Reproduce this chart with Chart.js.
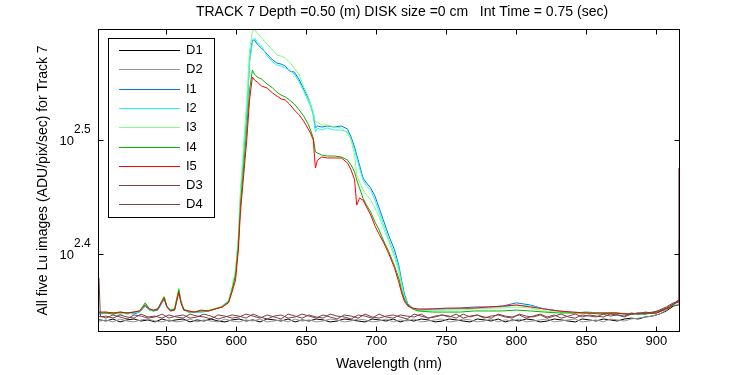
<!DOCTYPE html>
<html>
<head>
<meta charset="utf-8">
<script src="https://cdn.jsdelivr.net/npm/chart.js@4.4.1/dist/chart.umd.min.js"></script>
<style>
  html, body { margin: 0; padding: 0; background: #fff; }
  canvas { display: block; }
</style>
</head>
<body>
<canvas id="grafiek" width="750" height="375"></canvas>
<script>
// golflengtes (nm) voor de belichte beelden I1..I5
const wavelengths = [
  502, 507, 512, 517, 522, 527, 531, 535, 538, 541,
  544, 546.5, 548.5, 550.5, 553, 556, 557.5, 559, 560.5, 562.5,
  566, 570, 575, 580, 585, 590, 594.5, 597, 599.5, 601.5,
  603, 605, 607.5, 609.5, 611.5, 613, 615, 618, 622, 626,
  629, 632, 635, 638, 641.5, 645, 648.5, 651, 653, 655,
  656.5, 658, 661, 665, 670, 675, 679.5, 682, 684.5, 686,
  688, 690.5, 693, 696, 699, 702, 705, 709, 713, 716,
  718, 720, 722.5, 726, 730, 740, 750, 760, 770, 780,
  790, 800, 810, 820, 830, 840, 850, 860, 870, 880,
  890, 900, 905, 910, 913, 916
];

// golflengtes (nm) voor de donkerbeelden D1..D4
const darkWavelengths = [
  502, 503, 507, 512, 517, 522, 527, 532, 537, 542, 547,
  552, 557, 562, 567, 572, 577, 582, 587, 592, 597,
  602, 607, 612, 617, 622, 627, 632, 637, 642, 647,
  652, 657, 662, 667, 672, 677, 682, 687, 692, 697,
  702, 707, 712, 717, 722, 727, 732, 737, 742, 747,
  752, 757, 762, 767, 772, 777, 782, 787, 792, 797,
  802, 807, 812, 817, 822, 827, 832, 837, 842, 847,
  852, 857, 862, 867, 872, 877, 882, 887, 892, 897,
  902, 907, 912, 915.5, 916
];

const i1 = [
  222.7, 223.2, 223.2, 222.7, 223.2, 222.7, 223.6, 226.3, 224.5, 224.1,
  224.5, 227.3, 229.6, 225.9, 224.1, 224.5, 228.6, 232.8, 228.2, 224.5,
  224.1, 223.6, 223.6, 224.1, 225.0, 226.3, 228.6, 234.3, 242.4, 258.5,
  282.5, 303.7, 332.6, 371.5, 386.8, 386.8, 383.7, 380.6, 376.0, 371.5,
  369.3, 368.5, 367.1, 363.4, 362.6, 356.9, 349.7, 344.9, 340.0, 333.3,
  324.0, 325.3, 324.6, 325.3, 324.6, 325.3, 323.3, 318.1, 311.8, 306.8,
  300.7, 292.9, 290.0, 287.1, 282.5, 275.8, 269.2, 260.6, 253.4, 245.8,
  238.5, 231.9, 227.3, 225.4, 224.5, 225.0, 225.0, 225.4, 225.9, 225.9,
  226.3, 227.8, 226.8, 225.0, 224.1, 223.2, 223.6, 223.2, 223.2, 222.7,
  223.2, 223.2, 224.5, 226.3, 227.8, 228.6
];
const i2 = [
  222.7, 223.2, 222.7, 223.2, 222.7, 223.2, 223.6, 226.8, 224.5, 224.1,
  225.0, 227.8, 230.0, 225.9, 224.1, 225.0, 229.1, 233.4, 228.2, 224.5,
  223.6, 223.6, 223.6, 224.1, 225.0, 225.9, 228.2, 233.9, 241.9, 257.5,
  280.2, 300.7, 330.6, 370.1, 385.3, 388.4, 385.3, 382.2, 374.5, 370.1,
  367.8, 367.1, 365.6, 364.1, 361.2, 355.4, 348.3, 342.8, 338.6, 331.9,
  321.4, 324.0, 322.7, 324.0, 322.7, 322.7, 321.4, 316.2, 309.9, 305.0,
  298.9, 291.8, 288.2, 285.9, 280.2, 273.5, 267.0, 258.5, 251.3, 244.3,
  237.1, 231.0, 226.8, 225.0, 224.5, 224.5, 225.0, 225.0, 225.4, 225.4,
  225.9, 226.8, 226.3, 225.0, 224.1, 223.6, 223.2, 223.2, 222.7, 222.7,
  222.7, 223.2, 224.5, 225.9, 227.3, 228.2
];
const i3 = [
  223.2, 223.6, 222.7, 223.2, 223.2, 223.6, 224.1, 227.3, 225.0, 224.5,
  225.4, 228.2, 231.0, 226.3, 224.5, 225.4, 230.0, 234.8, 229.1, 225.0,
  224.1, 223.6, 224.1, 224.5, 225.4, 226.3, 229.1, 235.2, 243.4, 260.1,
  285.9, 309.9, 342.8, 379.1, 393.1, 395.5, 392.3, 388.4, 383.7, 379.1,
  375.3, 374.5, 373.0, 370.1, 365.6, 360.5, 351.2, 346.2, 340.0, 334.6,
  327.9, 327.9, 325.9, 325.9, 324.6, 324.0, 320.7, 316.2, 306.8, 294.7,
  290.6, 285.9, 283.1, 280.2, 275.8, 270.8, 264.9, 257.5, 249.8, 242.4,
  236.1, 230.0, 226.3, 225.0, 224.1, 224.1, 224.5, 224.5, 225.0, 225.4,
  225.4, 225.9, 225.4, 224.1, 223.6, 223.2, 223.2, 223.2, 223.2, 222.7,
  223.2, 223.6, 225.0, 226.3, 227.8, 229.1
];
const i4 = [
  223.2, 223.2, 222.7, 223.6, 223.2, 223.6, 224.1, 227.8, 225.0, 224.1,
  225.0, 228.2, 230.5, 226.3, 224.5, 225.0, 229.6, 233.9, 228.6, 225.0,
  223.6, 223.6, 224.1, 224.1, 225.0, 225.9, 228.2, 233.9, 240.9, 255.9,
  277.4, 296.5, 322.7, 349.7, 364.1, 361.2, 359.0, 357.6, 354.0, 351.2,
  348.3, 346.2, 344.9, 342.8, 340.0, 335.9, 331.3, 327.2, 322.7, 317.5,
  308.7, 308.1, 306.8, 306.2, 306.2, 305.6, 303.7, 300.7, 296.5, 291.8,
  287.1, 281.3, 277.4, 273.5, 268.1, 263.8, 258.5, 252.4, 245.3, 239.5,
  233.9, 229.6, 226.8, 225.0, 224.1, 223.6, 223.6, 223.6, 224.1, 224.1,
  224.1, 224.5, 224.1, 223.6, 223.2, 223.2, 223.2, 222.7, 223.2, 222.7,
  222.7, 223.2, 224.5, 225.9, 227.3, 229.1
];
const i5 = [
  223.6, 223.6, 223.2, 223.6, 223.2, 223.6, 224.1, 226.8, 225.0, 224.5,
  225.0, 227.8, 230.0, 225.9, 224.1, 224.5, 228.6, 232.8, 227.8, 224.5,
  224.1, 223.6, 224.5, 224.1, 225.0, 225.9, 227.8, 232.8, 238.5, 253.4,
  273.5, 291.8, 316.2, 342.8, 359.0, 356.9, 355.4, 352.6, 351.2, 347.6,
  345.6, 343.5, 342.8, 340.0, 335.9, 332.6, 327.9, 324.0, 320.7, 316.2,
  298.9, 303.7, 305.6, 305.0, 305.0, 305.0, 301.9, 297.7, 291.8, 277.4,
  281.3, 280.2, 276.3, 271.9, 266.0, 261.6, 257.5, 251.3, 244.3, 237.6,
  232.5, 228.6, 226.3, 225.4, 225.0, 225.0, 225.4, 225.4, 225.4, 225.9,
  226.3, 226.8, 225.9, 225.0, 224.1, 223.6, 223.2, 223.2, 223.2, 222.7,
  223.2, 223.2, 224.5, 225.9, 227.8, 229.1
];

const d1 = [
  220.1, 220.1, 219.6, 220.5, 219.2, 220.1, 220.5, 219.6, 220.1, 219.2, 220.5,
  219.6, 220.1, 220.5, 219.2, 220.1, 219.6, 220.5, 219.6, 219.2, 220.1,
  220.5, 219.6, 220.1, 219.2, 220.5, 220.1, 219.6, 220.5, 219.2, 220.1,
  219.6, 220.5, 220.1, 219.2, 219.6, 220.5, 220.1, 219.6, 219.2, 220.5,
  220.1, 219.6, 220.5, 219.2, 220.1, 219.6, 220.5, 220.1, 219.2, 219.6,
  220.5, 220.1, 219.6, 219.2, 220.5, 220.1, 219.6, 220.5, 219.2, 220.1,
  219.6, 220.5, 220.1, 219.2, 219.6, 220.5, 220.1, 219.6, 219.2, 220.5,
  220.1, 219.6, 220.5, 220.1, 219.6, 220.5, 220.9, 220.5, 221.4, 221.8,
  222.7, 224.1, 226.3, 226.8, 227.3
];
const d2 = [
  219.6, 219.6, 220.1, 219.2, 220.5, 219.6, 219.2, 220.1, 220.5, 219.6, 219.2,
  220.1, 219.2, 219.6, 220.5, 219.2, 220.1, 219.6, 219.2, 220.5, 219.6,
  219.2, 220.1, 219.6, 220.5, 219.2, 219.6, 220.1, 219.2, 220.5, 219.6,
  220.1, 219.2, 219.6, 220.5, 220.1, 219.2, 219.6, 220.5, 220.1, 219.2,
  219.6, 220.5, 219.2, 220.1, 219.6, 220.5, 219.2, 219.6, 220.1, 220.5,
  219.2, 219.6, 220.5, 220.1, 219.2, 219.6, 220.5, 219.2, 220.1, 219.6,
  220.5, 219.2, 219.6, 220.1, 220.5, 219.2, 219.6, 220.1, 220.5, 219.2,
  219.6, 220.1, 219.2, 220.5, 220.1, 219.6, 220.5, 220.9, 221.4, 221.8,
  222.7, 224.5, 226.8, 226.8, 258.5
];
const d3 = [
  221.4, 221.8, 220.9, 222.3, 221.4, 220.5, 222.3, 221.8, 220.9, 221.4, 222.7,
  220.9, 221.8, 222.3, 220.9, 221.4, 222.7, 221.8, 220.5, 221.4, 222.3,
  221.8, 220.9, 222.7, 221.4, 220.5, 221.8, 222.3, 220.9, 221.4, 222.7,
  221.8, 220.9, 222.3, 221.4, 220.5, 222.3, 221.8, 220.9, 222.7, 221.4,
  220.9, 221.8, 222.3, 221.4, 220.5, 222.7, 221.8, 220.9, 221.4, 222.3,
  221.8, 220.9, 222.7, 221.4, 222.3, 220.9, 221.8, 222.3, 221.4, 220.9,
  222.7, 221.8, 221.4, 222.3, 220.9, 221.8, 222.7, 221.4, 220.9, 222.3,
  221.8, 221.4, 222.7, 221.8, 222.3, 221.4, 222.7, 223.2, 222.7, 223.6,
  224.1, 225.4, 227.3, 228.2, 228.6
];
const d4 = [
  239.5, 221.4, 221.8, 220.9, 222.3, 221.4, 220.9, 222.7, 221.4, 221.8, 220.9,
  222.3, 221.4, 220.9, 222.7, 221.8, 221.4, 220.5, 222.3, 221.8, 220.9,
  221.4, 222.7, 221.8, 220.9, 222.3, 221.4, 220.5, 222.7, 221.8, 220.9,
  222.3, 221.4, 220.9, 222.7, 221.8, 221.4, 220.5, 222.3, 221.8, 220.9,
  222.7, 221.4, 220.9, 222.3, 221.8, 221.4, 222.7, 220.9, 221.8, 222.3,
  221.4, 222.7, 220.9, 221.8, 222.3, 221.4, 220.9, 222.7, 221.8, 221.4,
  222.3, 220.9, 221.8, 222.7, 221.4, 222.3, 220.9, 221.8, 222.7, 221.4,
  222.3, 221.8, 221.4, 222.7, 222.3, 221.8, 223.2, 222.7, 223.6, 223.2,
  224.5, 225.9, 227.8, 228.2, 298.9
];

// assen
const xTicks = [550, 600, 650, 700, 750, 800, 850, 900];
const yTickExponents = ['2.4', '2.5'];
const yTicks = yTickExponents.map(e => Math.pow(10, parseFloat(e)));

const titel = 'TRACK 7 Depth =0.50 (m) DISK size =0 cm   Int Time = 0.75 (sec)';
const FONT = "'Liberation Sans', Arial, Helvetica, sans-serif";

function pts(xs, ys) {
  return xs.map((x, i) => ({ x: x, y: ys[i] }));
}

const series = [
  { label: 'D1', xs: darkWavelengths, ys: d1, color: '#000000' },
  { label: 'D2', xs: darkWavelengths, ys: d2, color: '#969696' },
  { label: 'I1', xs: wavelengths, ys: i1, color: '#0078e6' },
  { label: 'I2', xs: wavelengths, ys: i2, color: '#22f5f5' },
  { label: 'I3', xs: wavelengths, ys: i3, color: '#80ff80' },
  { label: 'I4', xs: wavelengths, ys: i4, color: '#00b400' },
  { label: 'I5', xs: wavelengths, ys: i5, color: '#ff0000' },
  { label: 'D3', xs: darkWavelengths, ys: d3, color: '#7f4040' },
  { label: 'D4', xs: darkWavelengths, ys: d4, color: '#7f4040' }
];

// tekst, tick-streepjes, kader en legenda zoals in de MATLAB figuur
const extras = {
  id: 'extras',
  afterDraw(chart) {
    const ctx = chart.ctx;
    const a = chart.chartArea;
    const xs = chart.scales.x, ys = chart.scales.y;
    const line = (x1, y1, x2, y2) => { ctx.beginPath(); ctx.moveTo(x1, y1); ctx.lineTo(x2, y2); ctx.stroke(); };
    ctx.save();
    ctx.strokeStyle = '#000';
    ctx.lineWidth = 1;
    const L = Math.round(a.left) + 0.5, R = Math.round(a.right) - 0.5;
    const T = Math.round(a.top) + 0.5, B = Math.round(a.bottom) - 0.5;
    ctx.strokeRect(L, T, R - L, B - T);

    xTicks.forEach(v => {
      const x = Math.round(xs.getPixelForValue(v)) + 0.5;
      line(x, B, x, B - 5);
      line(x, T, x, T + 5);
    });

    ctx.fillStyle = '#000';
    ctx.textBaseline = 'middle';
    yTicks.forEach((v, i) => {
      const y = Math.round(ys.getPixelForValue(v)) + 0.5;
      line(L, y, L + 5, y);
      line(R, y, R - 5, y);
      ctx.font = '13px ' + FONT;
      ctx.textAlign = 'right';
      ctx.fillText('10', 74, y + 1);
      ctx.font = '12px ' + FONT;
      ctx.textAlign = 'left';
      ctx.fillText(yTickExponents[i], 74, y - 11);
    });

    // titel
    ctx.font = '14px ' + FONT;
    ctx.textAlign = 'center';
    ctx.fillText(titel, 402, 12);

    // legenda
    ctx.fillStyle = '#fff';
    ctx.fillRect(108, 38, 107, 180);
    ctx.strokeStyle = '#000';
    ctx.strokeRect(108.5, 38.5, 106, 179);
    ctx.font = '13px ' + FONT;
    chart.data.datasets.forEach((ds, i) => {
      const y = Math.round(50 + i * 19.3) + 0.5;
      ctx.strokeStyle = ds.borderColor;
      line(119, y, 180, y);
      ctx.fillStyle = '#000';
      ctx.textAlign = 'left';
      ctx.fillText(ds.label, 186, y);
    });
    ctx.restore();
  }
};

new Chart(document.getElementById('grafiek').getContext('2d'), {
  type: 'line',
  data: {
    datasets: series.map((s, i) => ({
      label: s.label,
      data: pts(s.xs, s.ys),
      borderColor: s.color,
      backgroundColor: s.color,
      borderWidth: 1,
      pointRadius: 0,
      tension: 0,
      fill: false,
      order: series.length - i
    }))
  },
  options: {
    responsive: false,
    animation: false,
    devicePixelRatio: 1,
    layout: { padding: { left: 0, right: 70, top: 29, bottom: 0 } },
    plugins: { legend: { display: false }, tooltip: { enabled: false } },
    scales: {
      x: {
        type: 'linear',
        min: 501.3,
        max: 916.8,
        afterBuildTicks: s => { s.ticks = xTicks.map(v => ({ value: v })); },
        afterFit: s => { s.height = 43; },
        grid: { display: false, drawTicks: false },
        border: { display: false },
        ticks: { color: '#000', font: { family: FONT, size: 13 }, padding: 2, maxRotation: 0, autoSkip: false },
        title: { display: true, text: 'Wavelength (nm)', color: '#000', font: { family: FONT, size: 14 }, padding: { top: 0, bottom: 2 } }
      },
      y: {
        type: 'logarithmic',
        min: 214.8,
        max: 395.5,
        afterBuildTicks: s => { s.ticks = yTicks.map(v => ({ value: v })); },
        afterFit: s => { s.width = 98; },
        grid: { display: false, drawTicks: false },
        border: { display: false },
        ticks: { display: false },
        title: { display: true, text: 'All five Lu images (ADU/pix/sec) for Track 7', color: '#000', font: { family: FONT, size: 14 }, padding: { top: 35, bottom: 0 } }
      }
    }
  },
  plugins: [extras]
});
</script>
</body>
</html>
